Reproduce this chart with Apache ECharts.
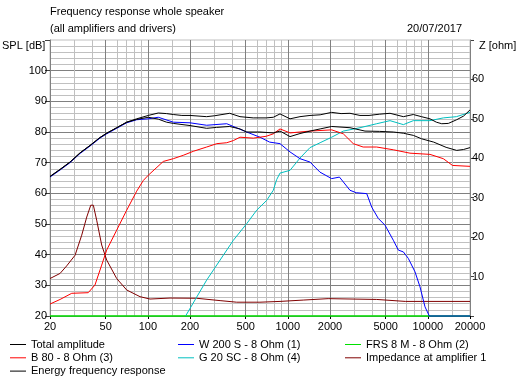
<!DOCTYPE html>
<html><head><meta charset="utf-8">
<script src="https://cdn.jsdelivr.net/npm/echarts@6/dist/echarts.min.js"></script>
<style>html,body{margin:0;padding:0;background:#fff}#c{width:516px;height:378px}</style>
</head><body><div id="c"></div><script>
const FONT = '"Liberation Sans", Arial, sans-serif';
const xMajorTicks = [20,50,100,200,500,1000,2000,5000,10000,20000];
const xMinorTicks = [30,40,60,70,80,90,150,300,400,600,700,800,900,1500,3000,4000,6000,7000,8000,9000,15000];

// Total amplitude (lower black)
const fTotal = [20,23.6,27.8,32.8,38.6,45.5,50.8,59.9,70.6,83.2,100.7,118.7,136,152,200,263,310,384,455,508,632,787,879,1036,1221,1439,1700,2056,2778,3556,4500,5666,6684,7874,9000,11010,13500,16070,18000,20000];
const totalAmp = [65.5,67.8,70.2,73.2,75.6,78.2,79.6,81.4,83.2,84.1,84.8,84.2,83.2,82.8,82.1,81.2,81.5,81.8,81.0,80.0,80.0,79.7,80.3,78.5,79.5,80.3,81.0,81.8,81.4,80.3,80.2,80.0,79.6,78.9,77.8,76.7,75.0,74.0,74.3,74.9];

// Energy frequency response (upper black)
const fEnergy = [20,23.6,27.8,32.8,38.6,45.5,50.8,59.9,70.6,83.2,100.7,118.7,136,152,175,200,263,300,384,455,566,700,787,879,1036,1221,1439,1700,2056,2400,2778,3275,3800,4500,5366,6684,7874,9000,10358,11500,12560,14000,16070,18000,20000];
const energyResp = [65.5,67.8,70.2,73.2,75.6,78.2,79.6,81.4,83.2,84.3,85.4,86.2,86.0,85.7,85.4,85.4,85.0,85.3,86.1,85.0,84.6,84.6,84.8,85.9,84.3,85.0,85.4,85.6,86.4,86.0,86.1,85.4,85.4,85.8,86.1,85.0,85.7,85.0,84.3,83.2,82.7,82.8,84.0,85.2,87.2];

// W 200 S - 8 Ohm (1)
const fW200 = [20,23.6,27.8,32.8,38.6,45.5,50.8,59.9,70.6,83.2,100.7,118.7,152,200,263,366,508,632,741,879,1036,1221,1439,1697,2056,2336,2778,3080,3660,3972,4427,4946,5666,6152,6684,7248,8096,8788,9541,10240,20000];
const w200 = [65.3,67.6,70.0,73.0,75.4,78.0,79.4,81.2,83.0,84.0,84.3,84.8,83.2,83.0,82.2,82.7,80.0,78.3,76.7,76.2,73.5,71.3,70.2,66.9,64.8,65.3,61.0,60.2,59.9,55.5,51.8,49.6,44.7,41.5,40.9,38.8,34.4,29.5,23.0,20,20];

// FRS 8 M - 8 Ohm (2)
const fFrs = [20,20000];
const frs8 = [20,20];

// B 80 - 8 Ohm (3)
const fB80 = [20,23.6,28.6,37.5,41.9,46.8,50.8,59.9,70.6,83.2,92.8,100.7,128.9,152,179,211,263,311,366,408,455,566,700,787,879,1036,1439,2056,2490,2932,3450,4311,5666,7454,10358,12890,15000,20000];
const b80 = [23.9,25.4,27.4,27.6,30.1,36.6,41.5,48.0,54.5,60.7,64.2,65.9,70.4,71.3,72.4,73.7,75.1,76.2,76.5,77.2,78.3,78.0,78.6,79.4,81.0,79.7,80.3,80.7,79.4,76.2,75.1,75.1,74.2,73.1,72.7,71.3,69.1,68.8];

// G 20 SC - 8 Ohm (4)
const fG20 = [186,263,408,508,599,706,787,832,879,1036,1221,1439,1700,2056,2490,3275,4311,5366,6684,7874,10358,12890,16000,20000];
const g20 = [20,31.7,44.7,50.1,54.5,57.7,61.0,64.5,66.6,67.5,71.5,74.9,76.5,78.3,80.3,81.4,82.7,83.7,82.4,83.7,83.7,84.6,85.0,86.4];

// Impedance at amplifier 1 (ohm, right axis)
const fImp = [20,23.6,26.3,30.2,33.7,36.6,39.1,40.8,43.1,46.8,50.8,59.9,70.6,87.9,103.6,144,223,328,431,632,879,1300,1940,4311,6900,20000];
const impedance = [9.5,10.8,12.7,15.4,20.5,25.1,28.1,28.1,24.3,18,14.2,9.5,6.6,4.9,4.3,4.55,4.5,3.9,3.5,3.5,3.7,4.05,4.4,4.2,3.7,3.7];

const pair = (fs, vs) => fs.map((f, i) => [f, vs[i]]);
const txt = {fontFamily: FONT, fontSize: 11, color: '#000', fontWeight: 'normal'};
const LINE_ICON = 'path://M0,0H16V1H0Z';

function line(name, fs, vs, color, yIdx, width) {
  return {name, type: 'line', data: pair(fs, vs), xAxisIndex: 0, yAxisIndex: yIdx || 0,
    symbol: 'none', showSymbol: false, smooth: false, clip: false,
    lineStyle: {color, width: width || 1}, itemStyle: {color},
    emphasis: {disabled: true}, animation: false};
}

function legendCol(left, names) {
  return {orient: 'vertical', left, top: 338, padding: 0, itemWidth: 16, itemHeight: 13, itemGap: 0.3,
    selectedMode: false, icon: LINE_ICON, symbolKeepAspect: true,
    textStyle: {fontFamily: FONT, fontSize: 11, color: '#000', lineHeight: 13},
    data: names.map(n => ({name: n, icon: LINE_ICON}))};
}

const chart = echarts.init(document.getElementById('c'), null, {renderer: 'canvas'});
chart.setOption({
  backgroundColor: '#fff',
  animation: false,
  textStyle: {fontFamily: FONT},
  title: [
    {text: 'Frequency response whole speaker', left: 50, top: 6, padding: 0, textStyle: txt},
    {text: '(all amplifiers and drivers)', left: 50, top: 23, padding: 0, textStyle: txt},
    {text: '20/07/2017', right: 54, top: 23, padding: 0, textStyle: txt},
    {text: 'SPL [dB]', left: 2, top: 40, padding: 0, textStyle: txt},
    {text: 'Z [ohm]', left: 479, top: 40, padding: 0, textStyle: txt}
  ],
  grid: {left: 50, right: 46, top: 40, bottom: 62, show: true, borderColor: '#c0c0c0', borderWidth: 1, backgroundColor: '#fff'},
  xAxis: [
    {type: 'log', logBase: 10, min: 20, max: 20000, position: 'bottom',
     axisLine: {show: true, lineStyle: {color: '#808080'}},
     axisTick: {show: true, length: 3, customValues: xMajorTicks, lineStyle: {color: '#000'}},
     axisLabel: {customValues: xMajorTicks, formatter: v => String(Math.round(v)), margin: 5, fontFamily: FONT, fontSize: 11, color: '#000', hideOverlap: false, showMinLabel: true, showMaxLabel: true},
     splitLine: {show: true, lineStyle: {color: '#808080', width: 1}},
     z: 2},
    {type: 'log', logBase: 10, min: 20, max: 20000, position: 'bottom', gridIndex: 0,
     axisLine: {show: false}, axisTick: {show: false, customValues: xMinorTicks},
     axisLabel: {show: false},
     splitLine: {show: true, lineStyle: {color: '#c0c0c0', width: 1}},
     z: 1}
  ],
  yAxis: [
    {type: 'value', min: 20, max: 110, interval: 10, position: 'left',
     axisLine: {show: true, lineStyle: {color: '#808080'}},
     axisTick: {show: true, length: 5, lineStyle: {color: '#404040'}},
     axisLabel: {formatter: v => v === 110 ? '' : String(v), margin: 3, fontFamily: FONT, fontSize: 11, color: '#000'},
     splitLine: {show: true, showMaxLine: false, lineStyle: {color: '#808080', width: 1}},
     minorTick: {show: false, splitNumber: 5},
     minorSplitLine: {show: true, lineStyle: {color: '#c0c0c0', width: 1}}},
    {type: 'value', min: 0, max: 70, interval: 10, position: 'right',
     axisLine: {show: true, lineStyle: {color: '#808080'}},
     axisTick: {show: true, length: 4, lineStyle: {color: '#404040'}},
     axisLabel: {formatter: v => (v === 0 || v === 70) ? '' : String(v), margin: 2, fontFamily: FONT, fontSize: 11, color: '#000'},
     splitLine: {show: false}}
  ],
  legend: [
    legendCol(10, ['Total amplitude', 'B 80 - 8 Ohm (3)', 'Energy frequency response']),
    legendCol(178, ['W 200 S - 8 Ohm (1)', 'G 20 SC - 8 Ohm (4)']),
    legendCol(345, ['FRS 8 M - 8 Ohm (2)', 'Impedance at amplifier 1'])
  ],
  series: [
    line('FRS 8 M - 8 Ohm (2)', fFrs, frs8, '#00e000', 0, 1.5),
    line('Impedance at amplifier 1', fImp, impedance, '#800000', 1),
    line('G 20 SC - 8 Ohm (4)', fG20, g20, '#00c0c0'),
    line('W 200 S - 8 Ohm (1)', fW200, w200, '#0000ff'),
    line('B 80 - 8 Ohm (3)', fB80, b80, '#ff0000'),
    line('Energy frequency response', fEnergy, energyResp, '#000000'),
    line('Total amplitude', fTotal, totalAmp, '#000000')
  ]
});
</script></body></html>
